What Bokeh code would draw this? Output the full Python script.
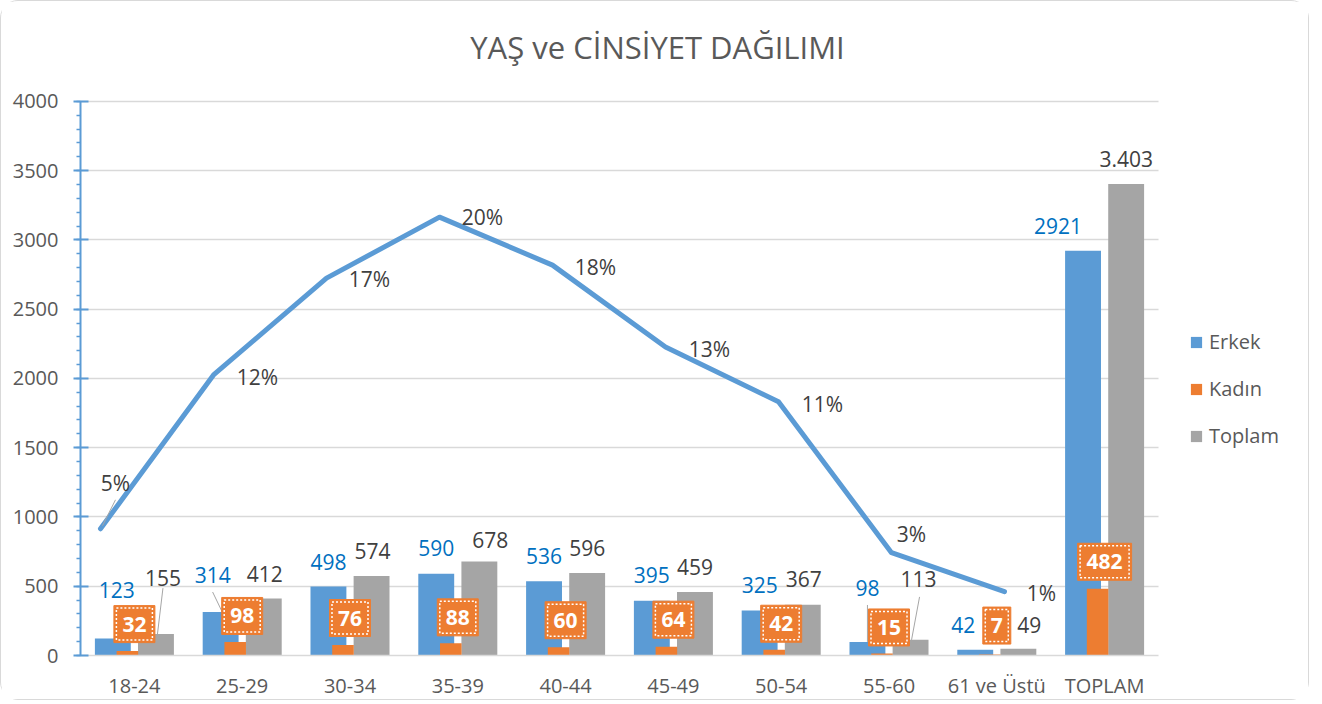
from bokeh.plotting import figure
from bokeh.models import (Range1d, ColumnDataSource, Legend, LegendItem,
                          SingleIntervalTicker, FixedTicker, LinearScale)
from bokeh.transform import dodge
from bokeh.core.properties import value
from bokeh.embed import file_html
from bokeh.resources import INLINE

# ---------------- data ----------------
categories = ["18-24", "25-29", "30-34", "35-39", "40-44", "45-49", "50-54", "55-60", "61 ve Üstü", "TOPLAM"]
erkek = [123, 314, 498, 590, 536, 395, 325, 98, 42, 2921]
kadin = [32, 98, 76, 88, 60, 64, 42, 15, 7, 482]
toplam = [155, 412, 574, 678, 596, 459, 367, 113, 49, 3403]
erkek_text = ["123", "314", "498", "590", "536", "395", "325", "98", "42", "2921"]
kadin_text = ["32", "98", "76", "88", "60", "64", "42", "15", "7", "482"]
toplam_text = ["155", "412", "574", "678", "596", "459", "367", "113", "49", "3.403"]

line_values = [915, 2025, 2724, 3164, 2818, 2227, 1831, 742, 461]
line_text = ["5%", "12%", "17%", "20%", "18%", "13%", "11%", "3%", "1%"]

TITLE = "YAŞ ve CİNSİYET DAĞILIMI"
Y_MAX = 4000

# ---------------- layout (pixel offsets of labels) ----------------
erkek_dx = [4, -8, 0, 0, 0, 0, 0, 0, -12, -25]
erkek_dy = [-48, -37, -25, -26, -25, -26, -25, -54, -25, -25]
toplam_dx = [7, 1, 1, 11, 0, 0, 1, 8, 11, 0]
toplam_dy = [-56, -24, -25, -22, -25, -25, -26, -61, -24, -25]
kadin_dy = [-27, -26, -27, -26, -27, -27, -26, -26, -29, -27]
line_dx = [15, 44, 43, 43, 43, 44, 44, 20, 37]
line_dy = [-46, 2, 1, 0, 2, 2, 2, -19, 1]

BLUE = "#5B9BD5"
ORANGE = "#ED7D31"
GRAY = "#A5A5A5"
TXT = "#595959"
DARK = "#404040"
FONT = value("Open Sans")
LBL = "21px"

W, H = 1309, 700
MB_L, MB_R, MB_T, MB_B = 79, 10, 9, 45
FRAME_W = W - MB_L - MB_R          # whole drawing area (plot + legend)
FRAME_H = H - MB_T - MB_B
PLOT_W, PLOT_H = 1078, 555         # area of the category axis / value axis
N = len(categories)
cat_px = PLOT_W / N
PX_Y = Y_MAX / PLOT_H              # data units per pixel (vertical)
LINE_STEP = 113                    # px between points of the line (secondary axis)
LINE_START = 20                    # px from plot left to first line point

OFF_E, OFF_K, OFF_T = -0.2, -0.065, 0.2
W_BIG, W_K = 0.333, 0.2

xc = [i + 0.5 for i in range(N)]   # category centres on the main axis

p = figure(x_range=Range1d(0, FRAME_W / cat_px), y_range=Range1d(0, FRAME_H * PX_Y),
           width=W, height=H,
           min_border_left=MB_L, min_border_right=MB_R, min_border_top=MB_T, min_border_bottom=MB_B,
           output_backend="svg", toolbar_location=None)
p.extra_x_ranges = {"line": Range1d(-LINE_START / LINE_STEP, (FRAME_W - LINE_START) / LINE_STEP)}
p.extra_x_scales = {"line": LinearScale()}
p.styles = {"border": "1.5px solid #D9D9D9", "border-radius": "18px"}

src = ColumnDataSource(dict(
    xc=xc, erkek=erkek, kadin=kadin, toplam=toplam,
    e_txt=erkek_text, k_txt=kadin_text, t_txt=toplam_text,
    e_dx=erkek_dx, e_dy=erkek_dy, t_dx=toplam_dx, t_dy=toplam_dy,
    k_box_y=[k - dy * PX_Y for k, dy in zip(kadin, kadin_dy)],
    k_box_w=[15 + 13 * len(t) for t in kadin_text],
    k_box_w2=[15 + 13 * len(t) - 5 for t in kadin_text],
))

# axes / grid
ticker = SingleIntervalTicker(interval=500, num_minor_ticks=5)
p.yaxis.ticker = ticker
p.yaxis.bounds = (0, Y_MAX)
grid = p.ygrid[0]
grid.ticker = ticker
grid.bounds = (0, Y_MAX)
grid.grid_line_color = "#D9D9D9"
grid.grid_line_width = 1.5
if "cross_bounds" in grid.properties():
    grid.cross_bounds = (0, N)
else:
    grid.grid_line_color = None
    gy = list(range(0, Y_MAX + 1, 500))
    p.segment(x0=[0] * len(gy), y0=gy, x1=[N] * len(gy), y1=gy,
              line_color="#D9D9D9", line_width=1.5)
p.xgrid.grid_line_color = None
p.outline_line_color = None

rE = p.vbar(x=dodge("xc", OFF_E), top="erkek", width=W_BIG, source=src,
            fill_color=BLUE, line_color=None)
rT = p.vbar(x=dodge("xc", OFF_T), top="toplam", width=W_BIG, source=src,
            fill_color=GRAY, line_color=None)
rK = p.vbar(x=dodge("xc", OFF_K), top="kadin", width=W_K, source=src,
            fill_color=ORANGE, line_color=None)

# line on its own horizontal scale
line_src = ColumnDataSource(dict(i=list(range(len(line_values))), v=line_values, t=line_text,
                                 dx=line_dx, dy=line_dy))
p.line(x="i", y="v", source=line_src, x_range_name="line", line_width=5, line_color=BLUE,
       line_join="round", line_cap="round")

# leader lines
lx0, ly0, lx1, ly1 = [], [], [], []
def add_leader(i, off, vals, dxs, dys, sdx, sdy, edx):
    bx = xc[i] + off
    top = vals[i]
    cx = bx + dxs[i] / cat_px
    cy = top - dys[i] * PX_Y
    lx0.append(cx + sdx / cat_px); ly0.append(cy - sdy * PX_Y)
    lx1.append(bx + edx / cat_px); ly1.append(top)
add_leader(0, OFF_T, toplam, toplam_dx, toplam_dy, 0, 10, 1.5)
add_leader(1, OFF_E, erkek, erkek_dx, erkek_dy, 0, 17, 1.6)
add_leader(7, OFF_E, erkek, erkek_dx, erkek_dy, 0, 17, 0)
add_leader(7, OFF_T, toplam, toplam_dx, toplam_dy, 1, 18, 1)
p.segment(x0=lx0, y0=ly0, x1=lx1, y1=ly1, line_color="#A6A6A6", line_width=1)
# leader of first percentage label
p.segment(x0=[line_dx[0] / LINE_STEP], y0=[line_values[0] - (line_dy[0] + 17) * PX_Y],
          x1=[2 / LINE_STEP], y1=[line_values[0] + 3 * PX_Y],
          x_range_name="line", line_color="#A6A6A6", line_width=1)

# labels
p.text(x=dodge("xc", OFF_E), y="erkek", text="e_txt", source=src,
       x_offset="e_dx", y_offset="e_dy", text_align="center", text_baseline="middle",
       text_font=FONT, text_font_size=LBL, text_color="#0070C0")
p.text(x=dodge("xc", OFF_T), y="toplam", text="t_txt", source=src,
       x_offset="t_dx", y_offset="t_dy", text_align="center", text_baseline="middle",
       text_font=FONT, text_font_size=LBL, text_color=DARK)
p.rect(x="xc", y="k_box_y", width="k_box_w", width_units="screen",
       height=37, height_units="screen", source=src, fill_color=ORANGE, line_color=ORANGE)
p.rect(x="xc", y="k_box_y", width="k_box_w2", width_units="screen",
       height=32, height_units="screen", source=src, fill_color=None, line_color="white",
       line_width=1.5, line_dash="2 2")
p.text(x="xc", y="k_box_y", text="k_txt", source=src,
       text_align="center", text_baseline="middle", text_font=FONT, text_font_size=LBL,
       text_font_style="bold", text_color="white")
p.text(x="i", y="v", text="t", source=line_src, x_range_name="line",
       x_offset="dx", y_offset="dy", text_align="center", text_baseline="middle",
       text_font=FONT, text_font_size=LBL, text_color=DARK)

# title (inside the drawing area, above the value axis)
p.text(x=[(657 - 80) / cat_px], y=[(PLOT_H + 54) * PX_Y], text=[TITLE],
       text_align="center", text_baseline="middle", text_font=FONT,
       text_font_size="31px", text_color=TXT)

p.yaxis.axis_line_color = BLUE
p.yaxis.axis_line_width = 2
p.yaxis.major_tick_line_color = BLUE
p.yaxis.major_tick_line_width = 2
p.yaxis.major_tick_out = 7
p.yaxis.major_tick_in = 8
p.yaxis.minor_tick_line_color = BLUE
p.yaxis.minor_tick_line_width = 1.5
p.yaxis.minor_tick_out = 4
p.yaxis.minor_tick_in = 0
p.yaxis.major_label_standoff = 15
p.yaxis.major_label_text_font = "Open Sans"
p.yaxis.major_label_text_font_size = "20px"
p.yaxis.major_label_text_color = TXT

p.xaxis.ticker = FixedTicker(ticks=xc, minor_ticks=[])
p.xaxis.bounds = (0, N)
p.xaxis.major_label_overrides = {x: c for x, c in zip(xc, categories)}
p.xaxis.axis_line_color = "#D9D9D9"
p.xaxis.axis_line_width = 1.5
p.xaxis.major_tick_line_color = None
p.xaxis.minor_tick_line_color = None
p.xaxis.major_label_standoff = 10
p.xaxis.major_label_text_font = "Open Sans"
p.xaxis.major_label_text_font_size = "20px"
p.xaxis.major_label_text_color = TXT

legend = Legend(items=[LegendItem(label="Erkek", renderers=[rE]),
                       LegendItem(label="Kadın", renderers=[rK]),
                       LegendItem(label="Toplam", renderers=[rT])],
                location=(1109, 206), orientation="vertical",
                border_line_color=None, background_fill_alpha=0,
                padding=0, margin=0, spacing=20, label_height=26,
                glyph_height=14, glyph_width=14, label_standoff=6,
                label_text_font="Open Sans", label_text_font_size="20px",
                label_text_color=TXT)
p.add_layout(legend)

open("out.html", "w").write(file_html(p, INLINE))
